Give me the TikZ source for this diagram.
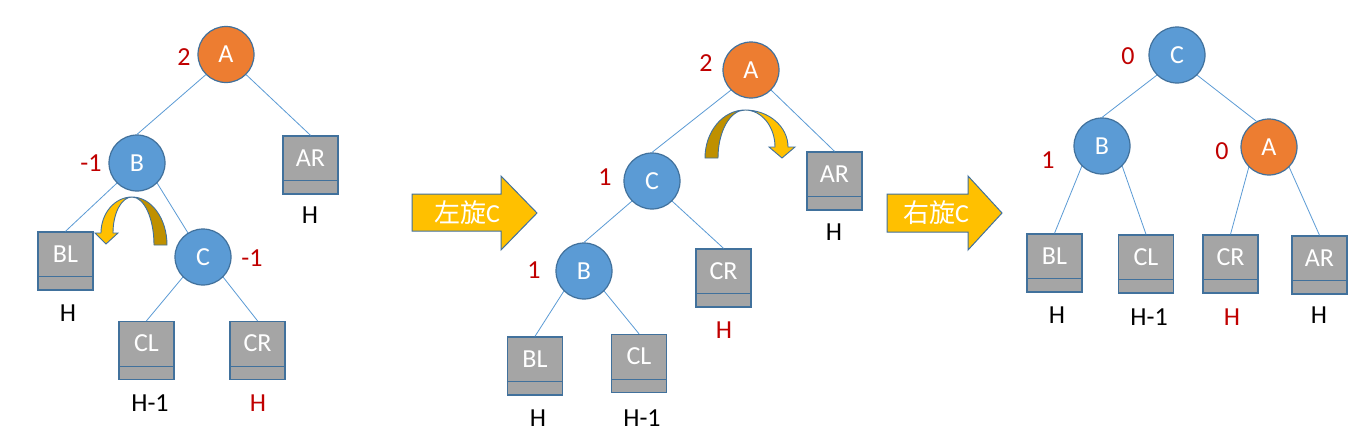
\documentclass[tikz,border=0pt]{standalone}
\usepackage{fontspec}
\setmainfont{Carlito}
\newfontfamily\cjk{Noto Sans CJK SC}
\definecolor{cblue}{HTML}{5B9BD5}
\definecolor{corange}{HTML}{ED7D31}
\definecolor{bord}{HTML}{41719C}
\definecolor{lgray}{HTML}{A5A5A5}
\definecolor{dred}{HTML}{C00000}
\definecolor{cyellow}{HTML}{FFC000}
\definecolor{cgold}{HTML}{BF9000}
\tikzset{
  nd/.style={circle, minimum size=56pt, inner sep=0pt, draw=bord, line width=1.2pt, text=white, font=\fontsize{26}{28}\selectfont},
  ndb/.style={nd, fill=cblue},
  nda/.style={nd, fill=corange},
  leaf/.style={rectangle, minimum width=55pt, minimum height=58pt, inner sep=0pt, draw=bord, line width=1.4pt, fill=lgray},
  leaftext/.style={text=white, inner sep=0pt, font=\fontsize{26}{28}\selectfont},
  bal/.style={text=dred, inner sep=0pt, font=\fontsize{26}{28}\selectfont},
  hl/.style={text=black, inner sep=0pt, font=\fontsize{26}{28}\selectfont},
  hr/.style={hl, text=dred},
  edge/.style={draw=cblue, line width=0.8pt},
  divline/.style={draw=bord, line width=1.4pt},
  blockarrow/.style={fill=cyellow, draw=bord, line width=1pt, line join=miter},
  curvdark/.style={fill=cgold, draw=bord, line width=0.9pt, line join=round},
  curvlight/.style={fill=cyellow, draw=bord, line width=0.9pt, line join=miter},
  arrtext/.style={text=white, inner sep=0pt, font=\fontsize{26}{28}\selectfont}
}
\newcommand\leafbox[3]{%
  \node[leaf] (#1) at (#2) {};
  \node[leaftext] (#1t) at ([yshift=7pt]#1.center) {#3};
  \draw[divline] ([yshift=14pt]#1.south west) -- ([yshift=14pt]#1.south east);
}
\begin{document}
\begin{tikzpicture}[x=1pt, y=-1pt]
\useasboundingbox (0,0) rectangle (1359,439);
\fill[white] (0,0) rectangle (1359,439);

% ---------------- Tree 1 ----------------
\node[nda] (aA) at (226,54.5) {A};
\node[ndb] (aB) at (137,163) {B};
\node[ndb] (aC) at (203,257) {C};
\leafbox{aAR}{310.5,165}{AR}
\leafbox{aBL}{65.5,261}{BL}
\leafbox{aCL}{146.5,350.5}{CL}
\leafbox{aCR}{257.5,350.5}{CR}
\draw[edge] (aA.225) -- (aB.north);
\draw[edge] (aA.315) -- (aAR.north);
\draw[edge] (aB.225) -- (aBL.north);
\draw[edge] (aB.315) -- (aC.122);
\draw[edge] (aC.225) -- (aCL.north);
\draw[edge] (aC.315) -- (aCR.north);
\node[bal] (a2) at (184,57) {2};
\node[bal] (am1) at (91,163) {-1};
\node[bal] (am2) at (252,258) {-1};
\node[hl] (aH1) at (310,215) {H};
\node[hl] (aH2) at (68,313) {H};
\node[hl] (aH3) at (150,403) {H-1};
\node[hr] (aH4) at (258,403) {H};
% curved arrow tree 1
\path[curvdark] (167,245) .. controls (167,218.5) and (151.3,197) .. (132,197)
   .. controls (144.2,197) and (154,218.5) .. (154,245) -- cycle;
\path[curvlight] (132,197) .. controls (114.9,197) and (101,213.1) .. (101,233)
   -- (95,233) -- (106,244) -- (118,233) -- (113,233)
   .. controls (113,213.1) and (121.5,197) .. (132,197) -- cycle;

% ---------------- Block arrow 1 ----------------
\path[blockarrow] (412,194) -- (501,194) -- (501,176) -- (537,213) -- (501,250) -- (501,231) -- (412,231) -- cycle;
\node[arrtext] (rot1) at (467,213) {{\cjk 左旋}C};

% ---------------- Tree 2 ----------------
\node[nda] (bA) at (751,70) {A};
\node[ndb] (bC) at (652,181) {C};
\node[ndb] (bB) at (584,271) {B};
\leafbox{bAR}{834.5,181}{AR}
\leafbox{bCR}{723.5,278}{CR}
\leafbox{bBL}{535,366}{BL}
\leafbox{bCL}{639,363.5}{CL}
\draw[edge] (bA.225) -- (bC.north);
\draw[edge] (bA.315) -- (bAR.north);
\draw[edge] (bC.225) -- (bB.north);
\draw[edge] (bC.315) -- (bCR.north);
\draw[edge] (bB.225) -- (bBL.north);
\draw[edge] (bB.315) -- (bCL.north);
\node[bal] (b2) at (706,63) {2};
\node[bal] (b1) at (605,177) {1};
\node[bal] (b3) at (534,270) {1};
\node[hl] (bH1) at (834,232) {H};
\node[hr] (bH2) at (724,330) {H};
\node[hl] (bH3) at (538,418) {H};
\node[hl] (bH4) at (642,418) {H-1};
% curved arrow tree 2
\path[curvdark] (705,158) .. controls (705,131.5) and (722.9,110) .. (745,110)
   .. controls (730.1,110) and (718,131.5) .. (718,158) -- cycle;
\path[curvlight] (745,110) .. controls (768.7,110) and (788,126.6) .. (788,147)
   -- (795,147) -- (782,158) -- (769,147) -- (775,147)
   .. controls (775,126.6) and (761.6,110) .. (745,110) -- cycle;

% ---------------- Block arrow 2 ----------------
\path[blockarrow] (887,194) -- (968,194) -- (968,176) -- (1002,213) -- (968,250) -- (968,232) -- (887,232) -- cycle;
\node[arrtext] (rot2) at (936,213) {{\cjk 右旋}C};

% ---------------- Tree 3 ----------------
\node[ndb] (cC) at (1177,55) {C};
\node[ndb] (cB) at (1102,146) {B};
\node[nda] (cA) at (1269,147) {A};
\leafbox{cBL}{1054.5,263}{BL}
\leafbox{cCL}{1146,264}{CL}
\leafbox{cCR}{1230.5,264}{CR}
\leafbox{cAR}{1319.5,265}{AR}
\draw[edge] (cC.225) -- (cB.north);
\draw[edge] (cC.315) -- (cA.116);
\draw[edge] (cB.225) -- (cBL.north);
\draw[edge] (cB.315) -- (cCL.north);
\draw[edge] (cA.225) -- (cCR.north);
\draw[edge] (cA.315) -- (cAR.north);
\node[bal] (c0) at (1128,56) {0};
\node[bal] (c1) at (1048,160) {1};
\node[bal] (c2) at (1222,151) {0};
\node[hl] (cH1) at (1057,315) {H};
\node[hl] (cH2) at (1149,317) {H-1};
\node[hr] (cH3) at (1232,317) {H};
\node[hl] (cH4) at (1319,315) {H};
\end{tikzpicture}
\end{document}
